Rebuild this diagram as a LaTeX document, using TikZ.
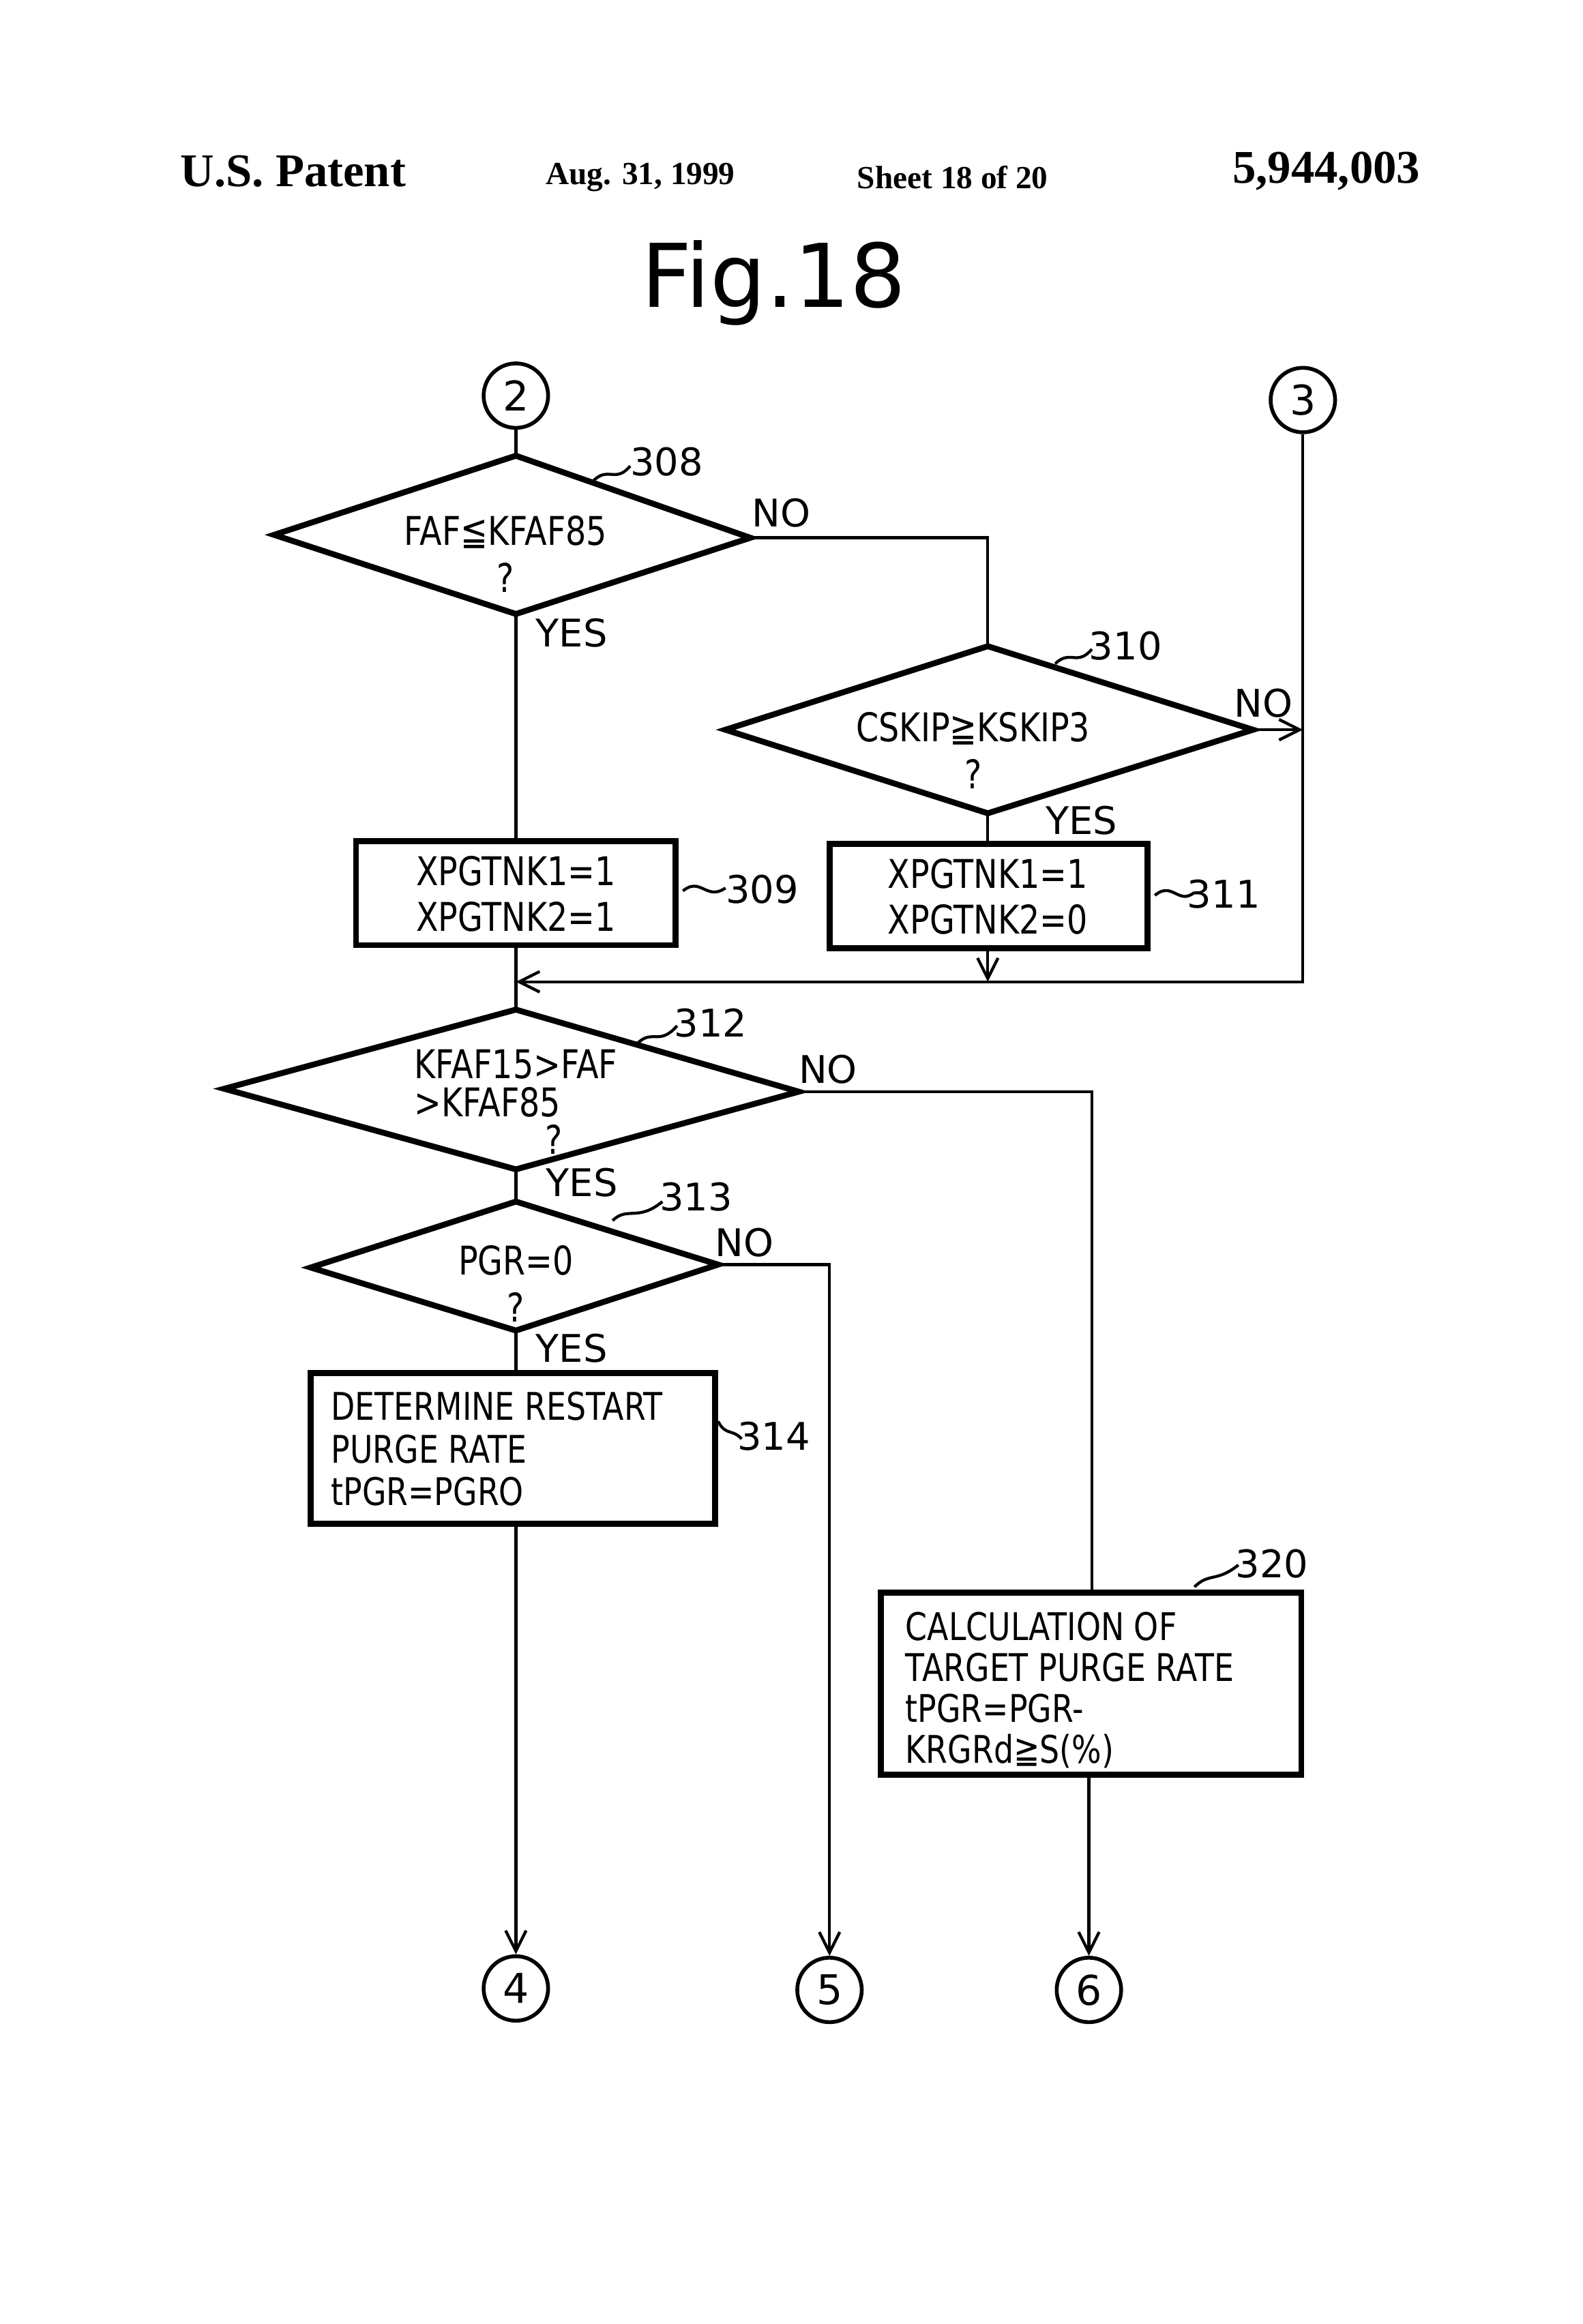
\documentclass[tikz,border=0pt]{standalone}
\usepackage{fontspec}
\setmainfont{DejaVu Sans}
\newfontfamily\hdr{Liberation Serif}
\newfontfamily\cond[FakeStretch=0.82]{DejaVu Sans}
\usetikzlibrary{arrows.meta}
\begin{document}
\begin{tikzpicture}[x=0.5pt,y=-0.5pt,line width=1.3pt,
  lbl/.style={font=\fontsize{13}{15}\selectfont},
  txt/.style={font=\cond\fontsize{13.5}{16}\selectfont,align=center},
  btxt/.style={font=\cond\fontsize{13.5}{15.5}\selectfont,align=left},
  conn/.style={circle,draw,minimum size=22pt,inner sep=0,font=\fontsize{14}{14}\selectfont},
  arr/.style={-{Straight Barb[length=7pt,width=7pt]},line width=1pt},
  ln/.style={line width=1pt},
  box/.style={line width=2pt},
  dia/.style={line width=2pt}]
\useasboundingbox (0,0) rectangle (1080,1586);
% header
\node[font=\hdr\bfseries\fontsize{16}{18}\selectfont] (h1) at (200,117) {U.S. Patent};
\node[font=\hdr\bfseries\fontsize{11}{13}\selectfont] (h2) at (437,121) {Aug. 31, 1999};
\node[font=\hdr\bfseries\fontsize{11}{13}\selectfont] (h3) at (650,121) {Sheet 18 of 20};
\node[font=\hdr\bfseries\fontsize{16}{18}\selectfont] (h4) at (905,117) {5,944,003};
\node[font=\fontsize{30}{32}\selectfont] (fig) at (528,193) {Fig.18};
% connectors
\node[conn] (c2) at (352,270) {2};
\node[conn] (c3) at (889,273) {3};
\node[conn] (c4) at (352,1357) {4};
\node[conn] (c5) at (566,1358) {5};
\node[conn] (c6) at (743,1358) {6};
% diamond 308
\coordinate (d308t) at (352,311); \coordinate (d308b) at (352,419);
\coordinate (d308l) at (187,365); \coordinate (d308r) at (512,367);
\draw[dia] (d308t)--(d308r)--(d308b)--(d308l)--cycle;
\node[txt] (t308) at (345,378) {FAF≦KFAF85\\?};
% diamond 310
\coordinate (d310t) at (674,441); \coordinate (d310b) at (674,555);
\coordinate (d310l) at (495,498); \coordinate (d310r) at (855,498);
\draw[dia] (d310t)--(d310r)--(d310b)--(d310l)--cycle;
\node[txt] (t310) at (664,512) {CSKIP≧KSKIP3\\?};
% diamond 312
\coordinate (d312t) at (352,689); \coordinate (d312b) at (352,798);
\coordinate (d312l) at (153,743); \coordinate (d312r) at (545,745);
\draw[dia] (d312t)--(d312r)--(d312b)--(d312l)--cycle;
\node[txt,align=left,font=\cond\fontsize{13.5}{13}\selectfont] (t312) at (352,752) {KFAF15>FAF\\>KFAF85\\\hspace*{3.3em}?};
% diamond 313
\coordinate (d313t) at (352,820); \coordinate (d313b) at (352,908);
\coordinate (d313l) at (212,865); \coordinate (d313r) at (490,863);
\draw[dia] (d313t)--(d313r)--(d313b)--(d313l)--cycle;
\node[txt] (t313) at (352,876) {PGR=0\\?};
% boxes
\draw[box] (243,574) rectangle (461,645);
\node[btxt] (b309) at (352,610) {XPGTNK1=1\\XPGTNK2=1};
\draw[box] (566,576) rectangle (783,647);
\node[btxt] (b311) at (674,612) {XPGTNK1=1\\XPGTNK2=0};
\draw[box] (212,937) rectangle (488,1040);
\node[btxt,anchor=north west,font=\cond\fontsize{13}{14.5}\selectfont] (b314) at (218,942) {DETERMINE RESTART\\PURGE RATE\\tPGR=PGRO};
\draw[box] (601,1087) rectangle (888,1211);
\node[btxt,anchor=north west,font=\cond\fontsize{13}{14}\selectfont] (b320) at (610,1092) {CALCULATION OF\\TARGET PURGE RATE\\tPGR=PGR-\\KRGRd≧S(\%)};
% step labels
\node[lbl] (n308) at (455,315) {308}; \draw[ln] (405,328) .. controls (415,318) and (420,330) .. (430,318);
\node[lbl] (n310) at (768,441) {310}; \draw[ln] (720,453) .. controls (730,443) and (735,455) .. (745,443);
\node[lbl] (n309) at (520,607) {309}; \draw[ln] (466,608) .. controls (478,598) and (482,615) .. (495,606);
\node[lbl] (n311) at (835,610) {311}; \draw[ln] (788,611) .. controls (800,601) and (804,618) .. (815,609);
\node[lbl] (n312) at (485,698) {312}; \draw[ln] (435,712) .. controls (445,702) and (450,714) .. (462,700);
\node[lbl] (n313) at (475,817) {313}; \draw[ln] (418,833) .. controls (428,823) and (435,834) .. (452,820);
\node[lbl] (n314) at (528,980) {314}; \draw[ln] (490,970) .. controls (495,980) and (500,975) .. (506,982);
\node[lbl] (n320) at (868,1067) {320}; \draw[ln] (815,1083) .. controls (825,1073) and (830,1080) .. (845,1068);
% yes/no
\node[lbl] (y308) at (390,432) {YES};
\node[lbl] (no308) at (533,350) {NO};
\node[lbl] (no310) at (862,480) {NO};
\node[lbl] (y310) at (738,560) {YES};
\node[lbl] (no312) at (565,730) {NO};
\node[lbl] (y312) at (397,807) {YES};
\node[lbl] (no313) at (508,848) {NO};
\node[lbl] (y313) at (390,920) {YES};
% flow lines
\draw[ln] (c2) -- (d308t);
\draw[ln] (d308r) -- (674,367) -- (d310t);
\draw[ln] (d308b) -- (352,574);
\draw[arr] (d310r) -- (889,498);
\draw[ln] (d310b) -- (674,576);
\draw[ln] (c3) -- (889,670) -- (674,670);
\draw[arr] (674,670) -- (352,670);
\draw[arr] (674,647) -- (674,670);
\draw[ln] (352,645) -- (d312t);
\draw[ln] (d312r) -- (745,745) -- (745,1087);
\draw[ln] (d312b) -- (d313t);
\draw[arr] (d313r) -- (566,863) -- (c5);
\draw[ln] (d313b) -- (352,937);
\draw[arr] (352,1040) -- (c4);
\draw[arr] (743,1211) -- (c6);
\end{tikzpicture}
\end{document}
